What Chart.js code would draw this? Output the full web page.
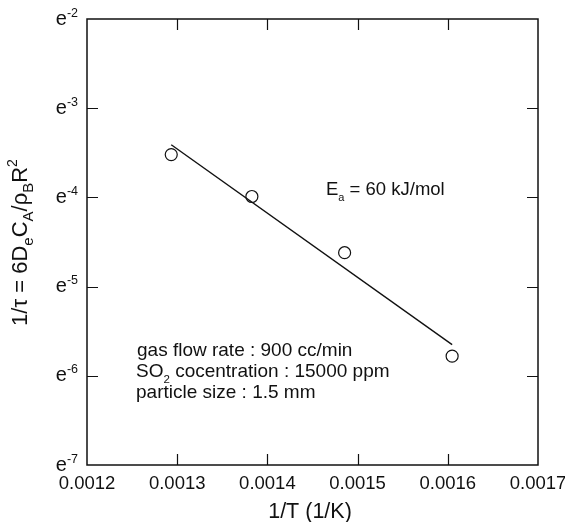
<!DOCTYPE html>
<html>
<head>
<meta charset="utf-8">
<script src="https://cdn.jsdelivr.net/npm/chart.js@4.4.0/dist/chart.umd.min.js"></script>
<style>
  html, body { margin: 0; padding: 0; background: #fff; }
  canvas { display: block; }
</style>
</head>
<body>
<canvas id="arrheniusChart" width="565" height="522"></canvas>
<script>
// measured points: 1/T (1/K) and ln(1/tau)
const invTemp = [0.0012934, 0.0013828, 0.0014856, 0.0016048];
const lnRate = [-3.52, -3.99, -4.62, -5.78];

// fitted line ends (Ea = 60 kJ/mol)
const fitInvTemp = [0.0012934, 0.0016048];
const fitLnRate = [-3.41, -5.65];

// axis ticks
const xTickValues = [0.0012, 0.0013, 0.0014, 0.0015, 0.0016, 0.0017];
const yTickPowers = [-7, -6, -5, -4, -3, -2];

const FONT = '"Liberation Sans", Arial, Helvetica, sans-serif';
const INK = "#111";

// draw a row of [text, size, baselineShift] pieces
function drawRuns(ctx, runs, x, y) {
    let cx = x;
    runs.forEach(r => {
        ctx.font = r[1] + "px " + FONT;
        ctx.fillText(r[0], cx, y + r[2]);
        cx += ctx.measureText(r[0]).width;
    });
    return cx - x;
}

function runsWidth(ctx, runs) {
    let w = 0;
    runs.forEach(r => {
        ctx.font = r[1] + "px " + FONT;
        w += ctx.measureText(r[0]).width;
    });
    return w;
}

const framePlugin = {
    id: "frame",
    afterDraw(chart) {
        const ctx = chart.ctx;
        const a = chart.chartArea;
        const xs = chart.scales.x;
        const ys = chart.scales.y;
        const tick = 11;

        ctx.save();
        ctx.strokeStyle = INK;
        ctx.fillStyle = INK;
        ctx.lineWidth = 1.5;
        ctx.strokeRect(a.left, a.top, a.right - a.left, a.bottom - a.top);

        // inward ticks
        ctx.beginPath();
        xTickValues.slice(1, -1).forEach(v => {
            const px = Math.round(xs.getPixelForValue(v)) + 0.5;
            ctx.moveTo(px, a.bottom); ctx.lineTo(px, a.bottom - tick);
            ctx.moveTo(px, a.top); ctx.lineTo(px, a.top + tick);
        });
        yTickPowers.slice(1, -1).forEach(p => {
            const py = Math.round(ys.getPixelForValue(p)) + 0.5;
            ctx.moveTo(a.left, py); ctx.lineTo(a.left + tick, py);
            ctx.moveTo(a.right, py); ctx.lineTo(a.right - tick, py);
        });
        ctx.lineWidth = 1.2;
        ctx.stroke();

        // y tick labels e^n
        ctx.textAlign = "left";
        ctx.textBaseline = "alphabetic";
        yTickPowers.forEach(p => {
            const py = ys.getPixelForValue(p);
            const runs = [["e", 20, 5.5], [String(p), 12.5, -2.5]];
            const w = runsWidth(ctx, runs);
            drawRuns(ctx, runs, a.left - 9 - w, py);
        });

        // y title
        const yTitle = [
            ["1/\u03c4 = 6D", 22, 0], ["e", 15, 6],
            ["C", 22, 0], ["A", 15, 6],
            ["/\u03c1", 22, 0], ["B", 15, 6],
            ["R", 22, 0], ["2", 14, -10]
        ];
        ctx.save();
        ctx.translate(27, 242.5);
        ctx.rotate(-Math.PI / 2);
        const tw = runsWidth(ctx, yTitle);
        drawRuns(ctx, yTitle, -tw / 2, 0);
        ctx.restore();

        // x title
        ctx.font = "21.5px " + FONT;
        ctx.textAlign = "center";
        ctx.fillText("1/T (1/K)", 310, 518);

        // notes
        ctx.textAlign = "left";
        drawRuns(ctx, [["E", 18.5, 0], ["a", 11, 5.5], [" = 60 kJ/mol", 18.5, 0]], 326, 195);
        drawRuns(ctx, [["gas flow rate : 900 cc/min", 19, 0]], 137, 356);
        drawRuns(ctx, [["SO", 19, 0], ["2", 11.5, 5.5], [" cocentration : 15000 ppm", 19, 0]], 136, 377);
        drawRuns(ctx, [["particle size : 1.5 mm", 19, 0]], 136, 398);
        ctx.restore();
    }
};

const points = invTemp.map((x, i) => ({ x: x, y: lnRate[i] }));
const fitLine = fitInvTemp.map((x, i) => ({ x: x, y: fitLnRate[i] }));

new Chart(document.getElementById("arrheniusChart").getContext("2d"), {
    type: "scatter",
    data: {
        datasets: [
            {
                data: fitLine,
                showLine: true,
                borderColor: INK,
                borderWidth: 1.4,
                pointRadius: 0,
                fill: false
            },
            {
                data: points,
                pointRadius: 6,
                borderColor: INK,
                borderWidth: 1.2,
                backgroundColor: "rgba(0,0,0,0)"
            }
        ]
    },
    options: {
        responsive: false,
        animation: false,
        devicePixelRatio: 1,
        layout: { padding: { left: 87, right: 27, top: 19, bottom: 0 } },
        plugins: {
            legend: { display: false },
            tooltip: { enabled: false }
        },
        scales: {
            x: {
                type: "linear",
                min: 0.0012,
                max: 0.0017,
                afterBuildTicks: s => { s.ticks = xTickValues.map(v => ({ value: v })); },
                afterFit: s => { s.height = 57; s.paddingLeft = 0; s.paddingRight = 0; },
                grid: { display: false, drawTicks: false },
                border: { display: false },
                ticks: {
                    padding: 8,
                    color: INK,
                    autoSkip: false,
                    maxRotation: 0,
                    font: { family: FONT, size: 18.5 },
                    callback: v => v.toFixed(4)
                }
            },
            y: { type: "linear", min: -7, max: -2, display: false }
        }
    },
    plugins: [framePlugin]
});
</script>
</body>
</html>
